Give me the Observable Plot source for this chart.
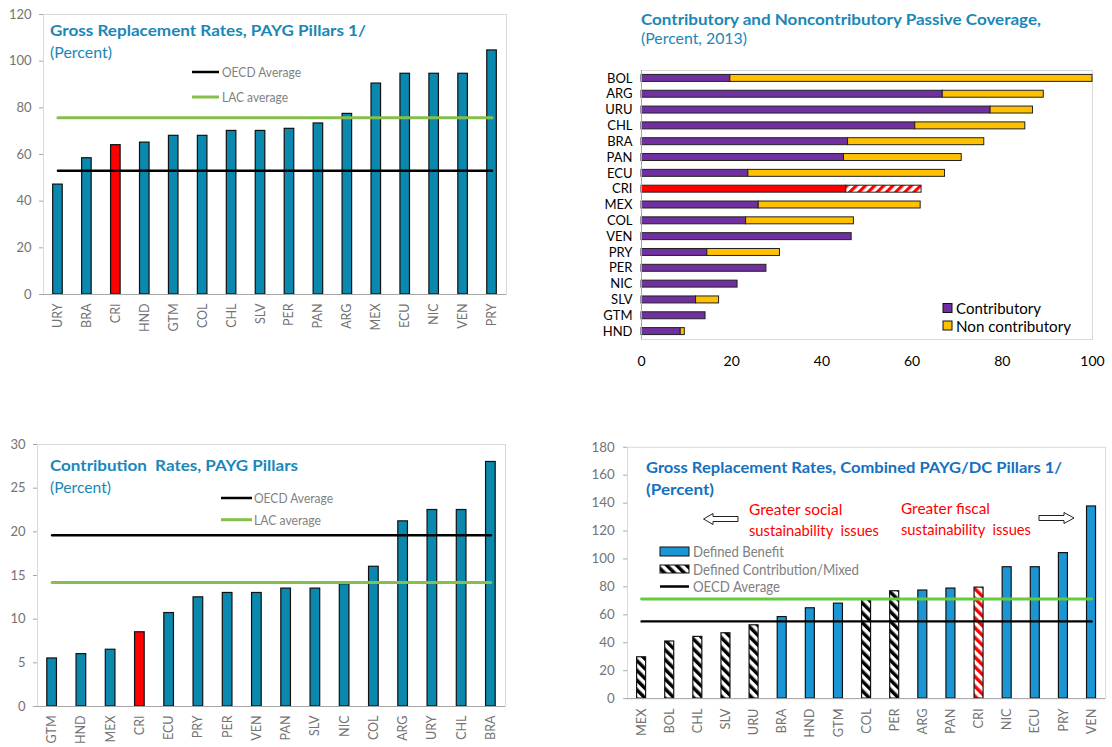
<!DOCTYPE html>
<html><head><meta charset="utf-8">
<script src="https://cdn.jsdelivr.net/npm/d3@7"></script>
<script src="https://cdn.jsdelivr.net/npm/@observablehq/plot@0.6"></script>
<style>
body{margin:0;background:#fff;font-family:Lato,sans-serif;}
#root{position:relative;width:1112px;height:747px;overflow:hidden;background:#fff;}
.panel{position:absolute;}
#overlay{position:absolute;left:0;top:0;pointer-events:none;}
</style></head>
<body>
<svg width="0" height="0" style="position:absolute">
<defs>
<pattern id="hatchBlack" patternUnits="userSpaceOnUse" width="7" height="7" patternTransform="rotate(-45)">
<rect width="7" height="7" fill="#fff"/><rect width="3.5" height="7" fill="#000"/></pattern>
<pattern id="hatchRed" patternUnits="userSpaceOnUse" width="7" height="7" patternTransform="rotate(-45)">
<rect width="7" height="7" fill="#fff"/><rect width="3.5" height="7" fill="#ff0000"/></pattern>
<pattern id="hatchRedSlash" patternUnits="userSpaceOnUse" width="6.5" height="6.5" patternTransform="rotate(45)">
<rect width="6.5" height="6.5" fill="#fff"/><rect width="3.2" height="6.5" fill="#ff0000"/></pattern>
</defs>
</svg>
<div id="root"></div>
<script>
// ---------- DATA ----------
const highlight = "CRI";

// Panel 1: Gross Replacement Rates, PAYG Pillars
const p1Countries = ["URY","BRA","CRI","HND","GTM","COL","CHL","SLV","PER","PAN","ARG","MEX","ECU","NIC","VEN","PRY"];
const p1Rates = [47.1,58.4,64.0,65.1,68.0,68.0,70.1,70.1,71.0,73.3,77.4,90.4,94.6,94.6,94.6,104.6];
const p1OECD = 53.0, p1LAC = 75.7;
const p1Ticks = [0,20,40,60,80,100,120];

// Panel 2: Contributory and Noncontributory Passive Coverage
const p2Countries = ["BOL","ARG","URU","CHL","BRA","PAN","ECU","CRI","MEX","COL","VEN","PRY","PER","NIC","SLV","GTM","HND"];
const p2Contributory = [19.7,66.8,77.4,60.7,45.8,44.9,23.7,45.4,26.0,23.2,46.6,14.6,27.7,21.3,12.1,14.2,8.7];
const p2Total = [100,89.2,86.8,85.1,76.0,71.0,67.3,62.1,61.9,47.1,46.6,30.7,27.7,21.3,17.2,14.2,9.6];
const p2Ticks = [0,20,40,60,80,100];

// Panel 3: Contribution Rates, PAYG Pillars
const p3Countries = ["GTM","HND","MEX","CRI","ECU","PRY","PER","VEN","PAN","SLV","NIC","COL","ARG","URY","CHL","BRA"];
const p3Rates = [5.5,6.0,6.5,8.5,10.7,12.5,13.0,13.0,13.5,13.5,14.0,16.0,21.2,22.5,22.5,28.0];
const p3OECD = 19.6, p3LAC = 14.2;
const p3Ticks = [0,5,10,15,20,25,30];

// Panel 4: Gross Replacement Rates, Combined PAYG/DC Pillars
const p4Countries = ["MEX","BOL","CHL","SLV","URU","BRA","HND","GTM","COL","PER","ARG","PAN","CRI","NIC","ECU","PRY","VEN"];
const p4Rates = [29.6,40.9,44.2,46.8,52.5,58.4,64.7,68.0,70.6,76.9,77.4,78.8,79.5,94.1,94.1,104.2,137.6];
const p4Scheme = ["DC","DC","DC","DC","DC","DB","DB","DB","DC","DC","DB","DB","DC","DB","DB","DB","DB"];
const p4OECD = 55.3, p4LAC = 71.3;
const p4Ticks = [0,20,40,60,80,100,120,140,160,180];

// ---------- STYLE ----------
const teal = "#0b88ae", red = "#ff0000", purple = "#7030a0", yellow = "#ffc000", blue = "#1b96d4";
const frameGray = "#d9d9d9", axisGray = "#a6a6a6", textGray = "#737373";
const lacGreen = "#86bf4b", lacGreen4 = "#62cc3c";
const titleTeal = "#1a87b8", titleBlue = "#1570c0";
const font = "Lato, sans-serif";

const root = document.getElementById("root");
function place(svg, left, top) {
  const d = document.createElement("div");
  d.className = "panel"; d.style.left = left + "px"; d.style.top = top + "px";
  d.appendChild(svg); root.appendChild(d);
}

// ---------- PANEL 1 ----------
const p1Data = p1Countries.map((c, i) => ({country: c, value: p1Rates[i]}));
place(Plot.plot({
  width: 520, height: 360, marginLeft: 43, marginRight: 14, marginTop: 14, marginBottom: 66,
  style: {fontFamily: font, background: "transparent", overflow: "visible"},
  x: {domain: p1Countries, paddingInner: 0.67, paddingOuter: 0.335, round: false},
  y: {domain: [0, 120]},
  color: {type: "identity"},
  marks: [
    Plot.frame({stroke: frameGray}),
    Plot.barY(p1Data, {x: "country", y: "value", fill: d => d.country === highlight ? red : teal, stroke: "#111", strokeWidth: 1.2}),
    Plot.ruleY([0], {stroke: axisGray}),
    Plot.lineY(p1Data, {x: "country", y: () => p1OECD, stroke: "#000", strokeWidth: 2.5}),
    Plot.lineY(p1Data, {x: "country", y: () => p1LAC, stroke: lacGreen, strokeWidth: 3}),
    Plot.axisY({ticks: p1Ticks, tickSize: 4, tickPadding: 8, fontSize: 13, fill: textGray, stroke: axisGray, label: null}),
    Plot.axisX({tickRotate: -90, tickSize: 0, tickPadding: 9, fontSize: 12.5, fill: textGray, label: null})
  ]
}), 0, 0);

// ---------- PANEL 2 ----------
const p2Data = p2Countries.map((c, i) => ({country: c, contributory: p2Contributory[i], total: p2Total[i]}));
place(Plot.plot({
  width: 532, height: 380, marginLeft: 61, marginRight: 20, marginTop: 70, marginBottom: 41,
  style: {fontFamily: font, background: "transparent", overflow: "visible"},
  x: {domain: [0, 100]},
  y: {domain: p2Countries, paddingInner: 0.56, paddingOuter: 0.28, round: false},
  color: {type: "identity"},
  marks: [
    Plot.frame({stroke: frameGray}),
    Plot.barX(p2Data, {y: "country", x1: 0, x2: "contributory", fill: d => d.country === highlight ? red : purple, stroke: "#222", strokeWidth: 1}),
    Plot.barX(p2Data.filter(d => d.total > d.contributory), {y: "country", x1: "contributory", x2: "total", fill: d => d.country === highlight ? "url(#hatchRedSlash)" : yellow, stroke: "#222", strokeWidth: 1}),
    Plot.ruleX([0], {stroke: axisGray}),
    Plot.axisX({ticks: p2Ticks, tickSize: 0, tickPadding: 17, fontSize: 14, fill: "#000", label: null}),
    Plot.axisY({tickSize: 0, tickPadding: 9, fontSize: 13, fill: "#000", label: null})
  ]
}), 580, 0);

// ---------- PANEL 3 ----------
const p3Data = p3Countries.map((c, i) => ({country: c, value: p3Rates[i]}));
place(Plot.plot({
  width: 520, height: 317, marginLeft: 37, marginRight: 15, marginTop: 14, marginBottom: 41,
  style: {fontFamily: font, background: "transparent", overflow: "visible"},
  x: {domain: p3Countries, paddingInner: 0.67, paddingOuter: 0.335, round: false},
  y: {domain: [0, 30]},
  color: {type: "identity"},
  marks: [
    Plot.frame({stroke: frameGray}),
    Plot.barY(p3Data, {x: "country", y: "value", fill: d => d.country === highlight ? red : teal, stroke: "#111", strokeWidth: 1.2}),
    Plot.ruleY([0], {stroke: axisGray}),
    Plot.lineY(p3Data, {x: "country", y: () => p3OECD, stroke: "#000", strokeWidth: 2.5}),
    Plot.lineY(p3Data, {x: "country", y: () => p3LAC, stroke: lacGreen, strokeWidth: 3}),
    Plot.axisY({ticks: p3Ticks, tickSize: 4, tickPadding: 8, fontSize: 13, fill: textGray, stroke: axisGray, label: null}),
    Plot.axisX({tickRotate: -90, tickSize: 0, tickPadding: 9, fontSize: 12.5, fill: textGray, label: null})
  ]
}), 0, 430);

// ---------- PANEL 4 ----------
const p4Data = p4Countries.map((c, i) => ({country: c, value: p4Rates[i], scheme: p4Scheme[i]}));
place(Plot.plot({
  width: 560, height: 317, marginLeft: 68, marginRight: 7, marginTop: 17, marginBottom: 45,
  style: {fontFamily: font, background: "transparent", overflow: "visible"},
  x: {domain: p4Countries, paddingInner: 0.68, paddingOuter: 0.34, round: false},
  y: {domain: [0, 180]},
  color: {type: "identity"},
  marks: [
    Plot.frame({stroke: frameGray}),
    Plot.barY(p4Data, {x: "country", y: "value",
      fill: d => d.scheme === "DB" ? blue : (d.country === highlight ? "url(#hatchRed)" : "url(#hatchBlack)"),
      stroke: "#111", strokeWidth: 1.2}),
    Plot.ruleY([0], {stroke: axisGray}),
    Plot.lineY(p4Data, {x: "country", y: () => p4LAC, stroke: lacGreen4, strokeWidth: 3}),
    Plot.lineY(p4Data, {x: "country", y: () => p4OECD, stroke: "#000", strokeWidth: 2.5}),
    Plot.axisY({ticks: p4Ticks, tickSize: 4, tickPadding: 9, fontSize: 13.5, fill: textGray, stroke: axisGray, label: null}),
    Plot.axisX({tickRotate: -90, tickSize: 0, tickPadding: 10, fontSize: 13, fill: textGray, label: null})
  ]
}), 560, 430);

// ---------- OVERLAY: titles, legends, annotations ----------
const ov = d3.select(root).append("svg").attr("id", "overlay").attr("width", 1112).attr("height", 747)
  .style("font-family", font);
function txt(x, y, s, o = {}) {
  const t = ov.append("text").attr("x", x).attr("y", y).text(s)
    .attr("font-size", o.size || 14).attr("fill", o.fill || "#000")
    .attr("font-weight", o.bold ? "bold" : "normal").style("white-space", "pre");
  if (o.central) t.attr("dominant-baseline", "central");
  if (o.len) t.attr("textLength", o.len).attr("lengthAdjust", "spacingAndGlyphs");
  return t;
}
function line(x1, x2, y, stroke, w) {
  ov.append("line").attr("x1", x1).attr("x2", x2).attr("y1", y).attr("y2", y).attr("stroke", stroke).attr("stroke-width", w);
}
function rect(x, y, w, h, fill) {
  ov.append("rect").attr("x", x).attr("y", y).attr("width", w).attr("height", h).attr("fill", fill).attr("stroke", "#111").attr("stroke-width", 1);
}

// Panel 1
txt(50, 36, "Gross Replacement Rates, PAYG Pillars 1/", {bold: true, size: 15, fill: titleTeal, len: 316});
txt(50, 57.5, "(Percent)", {size: 15, fill: titleTeal, len: 62});
line(192, 219, 72, "#000", 2.5);
txt(222, 72, "OECD Average", {size: 13, fill: "#7f7f7f", central: true, len: 79});
line(192, 219, 97, lacGreen, 3);
txt(222, 97, "LAC average", {size: 13, fill: "#7f7f7f", central: true, len: 66});

// Panel 2
txt(641, 25, "Contributory and Noncontributory Passive Coverage,", {bold: true, size: 16, fill: titleTeal, len: 400});
txt(641, 43.5, "(Percent, 2013)", {size: 15.5, fill: titleTeal, len: 106});
rect(943, 303.5, 9, 9, purple);
txt(956, 308, "Contributory", {size: 15.5, central: true, len: 85});
rect(943, 321, 9, 9, yellow);
txt(956, 326, "Non contributory", {size: 15.5, central: true, len: 115});

// Panel 3
txt(50, 470.7, "Contribution  Rates, PAYG Pillars", {bold: true, size: 15, fill: titleTeal, len: 248});
txt(50, 492.7, "(Percent)", {size: 15, fill: titleTeal, len: 61});
line(221, 252, 498, "#000", 2.5);
txt(254, 498, "OECD Average", {size: 13, fill: "#7f7f7f", central: true, len: 79});
line(221, 252, 519.7, lacGreen, 3);
txt(254, 519.7, "LAC average", {size: 13, fill: "#7f7f7f", central: true, len: 67});

// Panel 4
txt(646, 473.3, "Gross Replacement Rates, Combined PAYG/DC Pillars 1/", {bold: true, size: 16, fill: titleBlue, len: 416});
txt(646, 495, "(Percent)", {bold: true, size: 16, fill: titleBlue, len: 68});
txt(749, 515, "Greater social", {size: 15, fill: red, len: 93.5});
txt(749, 536, "sustainability  issues", {size: 15, fill: red, len: 130});
txt(901, 514, "Greater fiscal", {size: 15, fill: red, len: 89});
txt(901, 535, "sustainability  issues", {size: 15, fill: red, len: 130});
ov.append("polygon").attr("points", "703.5,519 713,513.5 713,516.5 738,516.5 738,521.5 713,521.5 713,524.5")
  .attr("fill", "#fff").attr("stroke", "#222").attr("stroke-width", 1);
ov.append("polygon").attr("points", "1074,518 1064,512.5 1064,515.5 1039,515.5 1039,520.5 1064,520.5 1064,523.5")
  .attr("fill", "#fff").attr("stroke", "#222").attr("stroke-width", 1);
rect(660, 547, 29, 9, blue);
txt(693, 551.5, "Defined Benefit", {size: 14.5, fill: "#808080", central: true, len: 91});
rect(660, 565, 29, 8, "url(#hatchBlack)");
txt(693, 569, "Defined Contribution/Mixed", {size: 14.5, fill: "#808080", central: true, len: 166});
line(660, 689, 586.5, "#000", 2.5);
txt(693, 586.5, "OECD Average", {size: 14.5, fill: "#808080", central: true, len: 87});
</script>
</body></html>
